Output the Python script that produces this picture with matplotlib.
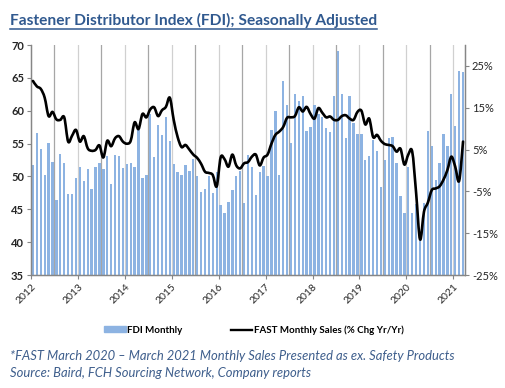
import numpy as np
import matplotlib.pyplot as plt
from matplotlib.patches import Patch, PathPatch
from matplotlib.path import Path
from matplotlib.lines import Line2D

# FDI monthly index, Jan 2012 .. Mar 2021 (left axis)
fdi_monthly = [
    51.7, 56.6, 54.2, 50.2, 55.1, 52.2, 46.4, 53.4, 52.0, 47.3, 47.3, 49.7,
    51.4, 49.3, 51.2, 48.1, 51.4, 52.0, 51.2, 53.1, 48.9, 53.2, 53.1, 51.3,
    51.9, 52.1, 51.4, 57.0, 49.8, 50.2, 59.5, 53.0, 57.8, 56.3, 59.0, 55.4,
    51.9, 50.7, 50.2, 51.7, 50.8, 52.6, 50.0, 47.6, 48.1, 50.1, 47.5, 50.6,
    45.6, 44.5, 46.1, 47.9, 50.1, 50.8, 46.0, 53.2, 51.4, 47.1, 50.7, 51.6,
    50.0, 57.0, 60.0, 50.2, 64.5, 60.8, 55.1, 62.6, 61.5, 62.2, 56.9, 57.5,
    60.8, 59.5, 59.1, 57.4, 56.7, 62.2, 69.1, 62.5, 55.8, 62.2, 58.2, 56.5,
    56.5, 52.5, 53.1, 55.6, 53.8, 48.4, 52.5, 55.9, 56.0, 52.1, 47.0, 44.5,
    51.4, 44.5, 45.8, 40.1, 45.9, 56.9, 54.6, 49.4, 52.0, 56.5, 54.6, 62.6,
    57.7, 66.1, 65.9,
]

# FAST monthly sales, % change yr/yr (right axis)
fast_sales_pct = [
    21.4, 20.1, 19.5, 17.4, 13.0, 14.0, 12.2, 12.1, 12.7, 6.9, 8.3, 9.7,
    6.9, 8.2, 5.3, 4.7, 4.9, 6.0, 3.1, 7.1, 5.8, 7.7, 8.2, 6.9,
    6.4, 7.1, 11.5, 9.9, 13.5, 12.7, 14.6, 15.1, 13.0, 14.4, 15.2, 17.4,
    12.1, 8.0, 5.6, 6.1, 5.0, 3.8, 3.0, 1.6, -0.3, -0.6, -1.1, -3.8,
    3.1, 2.7, 0.9, 3.8, 1.2, 0.5, 1.7, 2.0, 3.3, 3.8, 1.2, 3.1,
    3.8, 6.4, 8.5, 9.3, 10.4, 12.6, 12.7, 13.0, 15.1, 14.1, 15.2, 13.5,
    12.4, 14.9, 13.8, 12.7, 12.9, 12.1, 12.1, 13.0, 13.2, 12.4, 12.1, 14.0,
    14.3, 11.0, 12.4, 8.0, 8.5, 7.1, 6.3, 6.1, 5.8, 4.5, 5.2, 1.4,
    3.8, 4.5, -5.4, -16.5, -9.9, -7.7, -4.7, -4.3, -3.8, -2.2, 0.1, 3.3,
    0.9, -2.5, 6.9,
]

years = list(range(2012, 2022))
left_ticks = [35, 40, 45, 50, 55, 60, 65, 70]
right_ticks = [-25, -15, -5, 5, 15, 25]

plt.rcParams['font.family'] = ['Lato', 'DejaVu Sans']


def smooth_path(xs, ys):
    # Catmull-Rom style bezier through the points, like Excel's smoothed line
    pts = np.column_stack([xs, ys])
    verts = [pts[0]]
    codes = [Path.MOVETO]
    for i in range(len(pts) - 1):
        p0 = pts[max(i - 1, 0)]
        p1 = pts[i]
        p2 = pts[i + 1]
        p3 = pts[min(i + 2, len(pts) - 1)]
        verts += [p1 + (p2 - p0) / 6, p2 - (p3 - p1) / 6, p2]
        codes += [Path.CURVE4] * 3
    return Path(verts, codes)


fig = plt.figure(figsize=(5.06, 3.88), dpi=100)
ax = fig.add_axes([31 / 506, 1 - 275 / 388, 434 / 506, 230 / 388])

n = len(fdi_monthly)
x = np.arange(n) + 0.5

# half-year grid lines
for m in range(6, n + 1, 6):
    col = '#a6a6a6' if m % 12 else '#d0d0d0'
    ax.axvline(m, color=col, lw=0.9, zorder=1)

ax.bar(x, fdi_monthly, width=0.6, color='#8DB3E2', zorder=2)
ax.set_xlim(0, 111)
ax.set_ylim(35, 70)
ax.set_yticks(left_ticks)
ax.set_yticklabels([str(t) for t in left_ticks], fontsize=8, fontweight='bold', color='#262626')
ax.set_xticks([12 * i for i in range(len(years))])
ax.set_xticklabels([str(y) for y in years], rotation=45, ha='right',
                   rotation_mode='anchor', fontsize=7.5, color='#262626')

ax2 = ax.twinx()
ax2.add_patch(PathPatch(smooth_path(x[:len(fast_sales_pct)], np.array(fast_sales_pct)),
                        fill=False, edgecolor='black', lw=1.9, joinstyle='round',
                        capstyle='round', zorder=3))
ax2.set_ylim(-25, 30)
ax2.set_yticks(right_ticks)
ax2.set_yticklabels([f'{t}%' for t in right_ticks], fontsize=8, color='#262626')

for a in (ax, ax2):
    a.spines['top'].set_visible(False)
    for s in ('left', 'right', 'bottom'):
        a.spines[s].set_color('#868686')
        a.spines[s].set_linewidth(0.9)
    a.tick_params(length=3, width=0.8, color='#868686', pad=2)

# title with underline
title = fig.text(10 / 506, 1 - 20 / 388, 'Fastener Distributor Index (FDI); Seasonally Adjusted',
                 fontsize=11.2, fontweight='bold', color='#30598F', va='center', ha='left')
fig.canvas.draw()
bb = title.get_window_extent().transformed(fig.transFigure.inverted())
fig.add_artist(Line2D([bb.x0, bb.x1], [bb.y0 - 0.004, bb.y0 - 0.004],
                      color='#30598F', lw=1.1, transform=fig.transFigure))

handles = [Patch(color='#8DB3E2'), Line2D([], [], color='black', lw=1.7)]
fig.legend(handles, ['FDI Monthly', 'FAST Monthly Sales (% Chg Yr/Yr)'],
           loc='center', bbox_to_anchor=(254 / 506, 1 - 330 / 388), ncol=2,
           frameon=False, handlelength=2.2, handleheight=0.6,
           handletextpad=0.15, columnspacing=5.0,
           prop={'weight': 'bold', 'size': 7})

note_color = '#3E5E8C'
fig.text(10 / 506, 1 - 356 / 388,
         '*FAST March 2020 \u2013 March 2021 Monthly Sales Presented as ex. Safety Products',
         fontsize=9.35, style='italic', color=note_color, va='center', ha='left')
fig.text(10 / 506, 1 - 373 / 388, 'Source: Baird, FCH Sourcing Network, Company reports',
         fontsize=9.35, style='italic', color=note_color, va='center', ha='left')

fig.savefig('out.png', dpi=100)
